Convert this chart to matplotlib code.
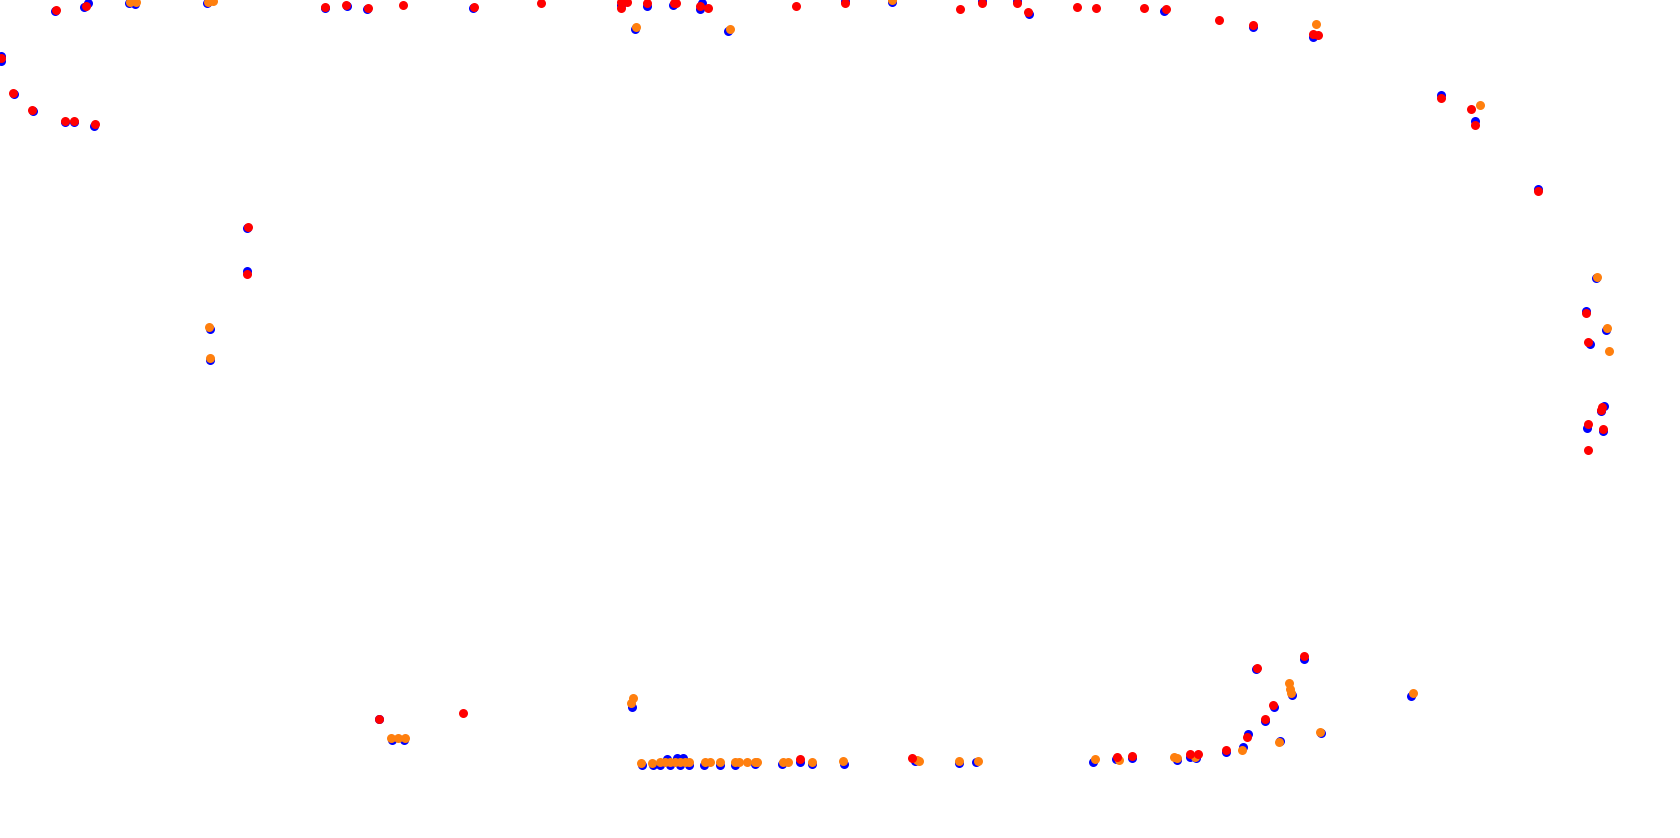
import matplotlib
matplotlib.use('Agg')
import matplotlib.pyplot as plt

# x, y position of each point (image-like coordinates, y grows downward)
blue_x = [1, 1, 13.5, 33, 65, 74, 93.5, 55, 84, 88, 129, 135, 207,
          325, 346.5, 367, 473, 621, 647, 673, 699.5, 702, 634.5, 728, 844.5, 892, 982, 1017, 1029,
          1164, 1253, 1313, 1441, 1474.5, 1537.5,
          247, 247, 210, 210,
          1595.5, 1585.5, 1606, 1589.5, 1603.5, 1600.5, 1587, 1602.5,
          378.5, 392, 404, 631.5,
          642, 652.5, 660, 666.5, 670, 676.5, 680, 683, 689,
          703.5, 719.5, 734.5, 754.5, 781.5, 800.3, 812.3, 844, 915, 958.7, 976,
          1093.3, 1115.7, 1131.7, 1176.7, 1190, 1196, 1226.3, 1243, 1248, 1265, 1280, 1274, 1256,
          1303.7, 1292, 1320.7, 1411]
blue_y = [56, 61, 94.5, 111, 122, 122, 126, 11, 7, 3, 3, 4, 3,
          8.5, 6, 9, 8, 5, 6, 5, 9, 3, 29, 31, 1, 1.7, 1, 1, 14,
          10.7, 26.7, 36.7, 94.7, 121.5, 189.5,
          228.5, 271.5, 329, 360.5,
          278, 311.5, 330, 344, 405.5, 411, 427.5, 431,
          718.5, 740, 740, 707,
          764.5, 764.5, 765, 759, 765, 757.7, 765, 758.3, 765,
          764.5, 764.5, 764.5, 763.5, 763.5, 762, 764, 763.5, 761, 762.5, 762,
          762.3, 759, 758.3, 760, 756.7, 758.3, 752, 747, 734, 721, 741, 707, 669.3,
          658.7, 695, 733.3, 695.7]

orange_x = [130, 136, 208, 213, 636.4, 730, 892, 1315.7, 1480,
            209, 209.7,
            1597, 1607, 1608.7,
            391, 397.7, 405, 632.7, 631,
            640.7, 651.7, 660, 665, 670, 675, 680, 685, 689,
            704.7, 710, 719.7, 735, 739, 747, 755, 757.3, 782.7, 788.3, 812.3, 843, 919, 917, 958.7, 978.3,
            1095, 1119.3, 1174.3, 1177, 1195, 1242, 1279, 1288.7, 1290, 1291, 1319.7, 1412.7]
orange_y = [1.7, 1.7, 1.7, 1, 27, 29, 0, 23.7, 104.7,
            326.7, 357.7,
            276.7, 328, 350.7,
            737.7, 737.7, 737.7, 698, 703.3,
            762.7, 762.7, 762, 762, 762, 762, 762, 762, 762,
            762.3, 762.3, 762, 762, 762, 762, 762, 762, 762, 762, 762, 761, 761, 759.5, 761, 761,
            759.3, 760.3, 757.3, 757.7, 757.3, 749.7, 741.7, 683.3, 689.3, 693.3, 731.7, 693.3]

red_x = [1, 12.9, 31.8, 64.6, 74, 94.6, 56, 86,
         325.4, 346, 368.2, 402.9, 473.6, 540.7,
         621.4, 620.7, 626.8, 647, 673.6, 676, 700, 708.2, 795.7, 844.6, 960, 981.8, 1016.8, 1028.2,
         1076.8, 1095.7,
         1143.9, 1165.7, 1218.9, 1252.9, 1313.2, 1318.2, 1440.7, 1471, 1474.6, 1537.5,
         247.7, 246.7,
         1585.7, 1587.7, 1602.3, 1601, 1588, 1602.7, 1588,
         378.7, 463, 800.3, 911.7,
         1116.7, 1131.7, 1190, 1197.7, 1226.3, 1247.3, 1265, 1273, 1257, 1303.7]
red_y = [58, 93.3, 109.7, 120.7, 120.7, 123.7, 10.3, 5.7,
         7, 4.7, 8, 4.7, 6.7, 3,
         1.7, 8, 1.7, 2.7, 2.7, 2.7, 6, 8, 5.7, 2.7, 9, 2.7, 2.7, 12,
         6.7, 7.7,
         7.7, 8.7, 19.7, 25, 34.3, 34.7, 97.7, 108.7, 124.7, 191.5,
         227, 273.7,
         313.3, 342, 407, 410.3, 424, 429.3, 449.7,
         719.3, 712.7, 758.7, 757.7,
         756.7, 755.7, 754, 754, 749.7, 736.7, 719, 705, 667.7, 655.7]

fig = plt.figure(figsize=(16.8, 8.38), dpi=100)
ax = fig.add_axes([0, 0, 1, 1])

ax.scatter(blue_x, blue_y, s=42, color='blue', linewidths=0)
ax.scatter(orange_x, orange_y, s=42, color='#ff7f0e', linewidths=0)
ax.scatter(red_x, red_y, s=42, color='red', linewidths=0)

ax.set_xlim(0, 1680)
ax.set_ylim(838, 0)
ax.axis('off')

fig.savefig('out.png', dpi=100)
